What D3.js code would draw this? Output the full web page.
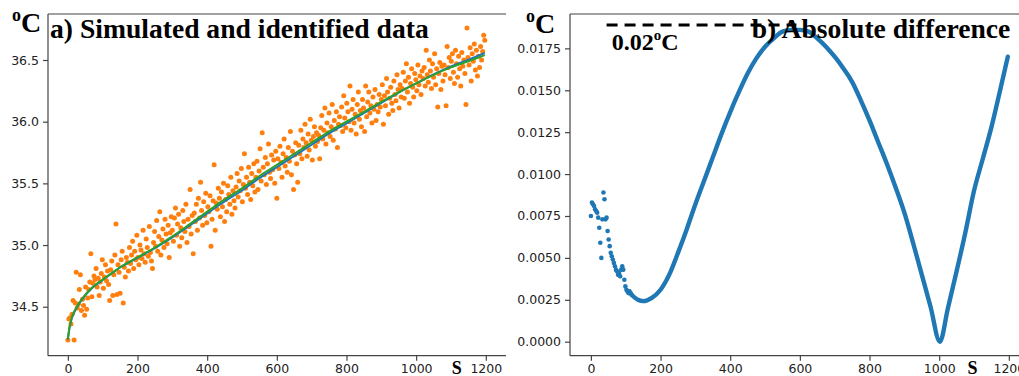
<!DOCTYPE html>
<html>
<head>
<meta charset="utf-8">
<script src="https://cdn.jsdelivr.net/npm/d3@7/dist/d3.min.js"></script>
<style>
  body { margin: 0; background: #fff; overflow: hidden; }
  text { font-family: "DejaVu Sans", sans-serif; }
  .serif { font-family: "Liberation Serif", "Times New Roman", serif; font-weight: bold; fill: #000; }
</style>
</head>
<body>
<svg id="chart" width="1019" height="376"></svg>
<script>
// sampling clock of the measurements (s)
const timeStep = 3;

// a) noisy simulated temperatures, one every 3 s from 0 s
const observed = [
  34.23, 34.40, 34.41, 34.36, 34.44, 34.55, 34.23, 34.53, 34.78, 34.49, 34.52, 34.64, 34.76, 34.47, 34.56, 34.51, 34.43, 34.66, 34.48, 34.57,
  34.64, 34.70, 34.93, 34.58, 34.69, 34.75, 34.72, 34.81, 34.66, 34.73, 34.59, 34.70, 34.77, 34.88, 34.65, 34.74, 34.84, 34.71, 34.79, 34.68,
  34.55, 34.80, 34.87, 34.59, 34.76, 34.92, 35.17, 34.60, 34.84, 34.78, 34.61, 34.88, 34.95, 34.53, 34.82, 34.74, 34.90, 34.86, 34.79, 34.98,
  34.85, 34.92, 35.03, 34.81, 34.95, 34.88, 35.08, 34.90, 34.84, 35.00, 34.96, 34.89, 35.12, 34.93, 34.86, 35.05, 34.98, 34.91, 35.15, 34.94,
  34.87, 34.81, 35.02, 35.11, 34.99, 35.20, 34.95, 35.07, 35.27, 34.92, 35.04, 35.13, 34.98, 35.21, 35.09, 35.01, 35.16, 34.90, 35.10, 35.23,
  35.12, 35.03, 35.22, 35.30, 35.08, 35.17, 35.25, 34.99, 35.14, 35.06, 35.28, 35.19, 35.11, 35.33, 35.02, 35.21, 35.15, 35.45, 35.09, 35.24,
  34.93, 35.26, 35.19, 35.33, 35.12, 35.38, 35.22, 35.51, 35.28, 35.16, 35.35, 35.24, 35.42, 35.18, 35.31, 35.27, 35.40, 34.99, 35.21, 35.36,
  35.65, 35.12, 35.34, 35.29, 35.46, 35.38, 35.23, 35.43, 35.31, 35.50, 35.19, 35.37, 35.27, 35.48, 35.41, 35.33, 35.55, 35.25, 35.44, 35.36,
  35.30, 35.47, 35.58, 35.39, 35.52, 35.44, 35.62, 35.35, 35.49, 35.74, 35.46, 35.55, 35.41, 35.63, 35.51, 35.37, 35.58, 35.48, 35.66, 35.43,
  35.55, 35.68, 35.45, 35.60, 35.78, 35.52, 35.91, 35.63, 35.57, 35.71, 35.49, 35.66, 35.82, 35.59, 35.54, 35.73, 35.61, 35.69, 35.50, 35.76,
  35.38, 35.70, 35.62, 35.80, 35.67, 35.55, 35.74, 35.86, 35.64, 35.71, 35.59, 35.79, 35.68, 35.92, 35.57, 35.76, 35.45, 35.73, 35.83, 35.66,
  35.51, 35.81, 35.74, 35.93, 35.70, 35.86, 35.79, 35.98, 35.83, 35.72, 35.90, 35.77, 36.02, 35.85, 35.69, 35.88, 35.96, 35.80, 35.91, 35.84,
  35.89, 35.70, 35.95, 36.05, 35.86, 35.93, 36.11, 35.82, 35.99, 35.91, 36.07, 35.88, 35.96, 36.14, 35.85, 36.01, 35.94, 36.08, 35.79, 35.98,
  36.04, 35.97, 36.12, 35.92, 36.21, 36.03, 35.95, 36.15, 36.08, 36.00, 36.29, 35.93, 36.10, 36.18, 35.99, 36.06, 35.90, 36.14, 36.24, 36.02,
  36.09, 35.96, 36.18, 36.11, 35.92, 36.29, 36.04, 36.16, 36.24, 36.07, 36.13, 35.99, 36.20, 36.10, 36.26, 36.01, 36.14, 36.08, 36.22, 36.12,
  36.18, 36.30, 35.98, 36.21, 36.13, 36.35, 36.24, 36.06, 36.19, 36.28, 36.15, 36.09, 36.33, 36.22, 36.17, 36.38, 36.26, 36.11, 36.30, 36.20,
  36.27, 36.40, 36.19, 36.33, 36.47, 36.24, 36.36, 36.15, 36.31, 36.43, 36.28, 36.20, 36.39, 36.34, 36.25, 36.46, 36.30, 36.37, 36.22, 36.41,
  36.35, 36.44, 36.29, 36.58, 36.38, 36.32, 36.50, 36.41, 36.27, 36.47, 36.36, 36.55, 36.30, 36.43, 36.12, 36.39, 36.48, 36.26, 36.45, 36.33,
  36.46, 36.38, 36.13, 36.61, 36.44, 36.52, 36.35, 36.49, 36.55, 36.40, 36.31, 36.58, 36.47, 36.36, 36.53, 36.43, 36.29, 36.56, 36.45, 36.50,
  36.39, 36.14, 36.76, 36.52, 36.46, 36.60, 36.33, 36.55, 36.49, 36.63, 36.42, 36.58, 36.37, 36.53, 36.44, 36.61, 36.50, 36.57, 36.70, 36.66
];

// a) model curves (s, degC)
const modelTime = [0, 5, 10, 20, 30, 45, 60, 80, 100, 125, 150, 200, 250, 300, 350, 400, 450, 500, 550, 600, 650, 700, 750, 800, 850, 900, 950, 1000, 1050, 1100, 1150, 1197];
const simulated = [34.233, 34.332, 34.392, 34.463, 34.514, 34.573, 34.625, 34.676, 34.717, 34.768, 34.818, 34.897, 34.975, 35.062, 35.159, 35.256, 35.354, 35.442, 35.542, 35.631, 35.722, 35.813, 35.905, 35.987, 36.069, 36.152, 36.236, 36.310, 36.384, 36.449, 36.503, 36.557];
const identified = [34.24, 34.34, 34.40, 34.47, 34.52, 34.58, 34.63, 34.68, 34.72, 34.77, 34.82, 34.90, 34.98, 35.07, 35.17, 35.27, 35.37, 35.46, 35.56, 35.65, 35.74, 35.83, 35.92, 36.00, 36.08, 36.16, 36.24, 36.31, 36.38, 36.44, 36.49, 36.54];

// b) absolute difference, scattered start (one every 3 s from 0 s)
const diffStart = [
  0.0075, 0.0083, 0.0082, 0.0081, 0.0079, 0.0078, 0.0077, 0.0074, 0.0068, 0.0059,
  0.0050, 0.0073, 0.0089, 0.0085, 0.0073, 0.0074, 0.0066, 0.0061, 0.0057, 0.0053,
  0.0051, 0.0049, 0.0047, 0.0045, 0.0043, 0.0042, 0.0040, 0.0041, 0.0039, 0.0043,
  0.0045, 0.0043, 0.0037, 0.0033, 0.0031, 0.0030, 0.0029, 0.0030, 0.0029, 0.0028
];
// b) absolute difference, smooth part
const diffTime = [117, 135, 150, 175, 200, 225, 250, 275, 300, 325, 350, 375, 400, 425, 450, 475, 500, 525, 550, 575, 600, 625, 650, 675, 700, 725, 750, 775, 800, 825, 850, 875, 900, 925, 950, 975, 1002, 1025, 1050, 1075, 1100, 1125, 1150, 1175, 1197];
const diffValue = [0.0028, 0.0025, 0.00242, 0.00262, 0.0031, 0.0040, 0.0053, 0.0067, 0.0082, 0.0096, 0.0110, 0.0124, 0.0137, 0.0149, 0.0160, 0.0169, 0.0176, 0.0181, 0.0185, 0.0186, 0.0186, 0.0185, 0.0181, 0.0176, 0.0170, 0.0163, 0.0155, 0.0144, 0.0132, 0.0119, 0.0106, 0.0092, 0.0077, 0.0059, 0.0040, 0.0021, 0.0000, 0.0020, 0.0042, 0.0065, 0.0090, 0.0109, 0.0128, 0.0150, 0.0170];

// dashed reference level
const refLevel = 0.0189;
const refSpan = [45, 590];

const timeTicks = [0, 200, 400, 600, 800, 1000, 1200];
const tempTicks = [34.5, 35.0, 35.5, 36.0, 36.5];
const diffTicks = [0, 0.0025, 0.005, 0.0075, 0.01, 0.0125, 0.015, 0.0175];

const orange = '#ff7f0e', green = '#2ca02c', blue = '#1f77b4';
const svg = d3.select('#chart');
const plotTop = 14, plotBottom = 355.7;

function axes(g, x, y, yTicks, fmt, left, right) {
  g.append('g')
    .attr('transform', 'translate(0,' + plotBottom + ')')
    .call(d3.axisBottom(x).tickValues(timeTicks).tickFormat(d3.format('d')).tickSize(5).tickPadding(3.5).tickSizeOuter(0))
    .call(a => a.select('.domain').attr('d', 'M' + left + ',0H' + right));
  g.append('g')
    .attr('transform', 'translate(' + left + ',0)')
    .call(d3.axisLeft(y).tickValues(yTicks).tickFormat(d3.format(fmt)).tickSize(5).tickPadding(4).tickSizeOuter(0))
    .call(a => a.select('.domain').attr('d', 'M0,' + plotTop + 'V' + plotBottom));
  g.append('line')
    .attr('x1', left).attr('x2', right).attr('y1', plotTop).attr('y2', plotTop)
    .attr('stroke', '#444').attr('stroke-width', 1.2);
  g.selectAll('.domain').attr('stroke', '#444').attr('stroke-width', 1.2);
  g.selectAll('.tick line').attr('stroke', '#444').attr('stroke-width', 1.2);
  g.selectAll('.tick text').attr('font-size', 12.5).attr('fill', '#222')
    .style('font-family', '"DejaVu Sans", sans-serif');
}

function unitLabel(g, x, y) {
  const t = g.append('text').attr('class', 'serif').attr('x', x).attr('y', y).attr('font-size', 28);
  t.append('tspan').attr('font-size', 18).attr('dy', -11).text('o');
  t.append('tspan').attr('dy', 11).text('C');
}

// ---- panel a ----
const xa = d3.scaleLinear().domain([-57, 1258]).range([48, 506]);
const ya = d3.scaleLinear().domain([34.103, 36.873]).range([plotBottom, plotTop]);
const ga = svg.append('g');

ga.append('g').selectAll('circle')
  .data(observed)
  .join('circle')
  .attr('cx', (d, i) => xa(i * timeStep))
  .attr('cy', d => ya(d))
  .attr('r', 2.5)
  .attr('fill', orange);

const lineA = (vals) => d3.line()
  .x((d, i) => xa(modelTime[i]))
  .y(d => ya(d))
  .curve(d3.curveMonotoneX)(vals);

ga.append('path').attr('d', lineA(simulated))
  .attr('fill', 'none').attr('stroke', blue).attr('stroke-width', 2);
ga.append('path').attr('d', lineA(identified))
  .attr('fill', 'none').attr('stroke', green).attr('stroke-width', 2);

axes(ga, xa, ya, tempTicks, '.1f', 48, 506);
unitLabel(ga, 12, 32);
ga.append('text').attr('class', 'serif').attr('x', 50).attr('y', 38)
  .attr('font-size', 27.6).text('a) Simulated and identified data');
ga.append('text').attr('class', 'serif').attr('x', 456.7).attr('y', 374)
  .attr('text-anchor', 'middle').attr('font-size', 18).text('S');

// ---- panel b ----
const xb = d3.scaleLinear().domain([-60, 1255]).range([570, 1028]);
const yb = d3.scaleLinear().domain([-0.000835, 0.01955]).range([plotBottom, plotTop]);
const gb = svg.append('g');

gb.append('path')
  .attr('d', d3.line().x((d, i) => xb(diffTime[i])).y(d => yb(d)).curve(d3.curveMonotoneX)(diffValue))
  .attr('fill', 'none').attr('stroke', blue).attr('stroke-width', 4.4)
  .attr('stroke-linecap', 'round').attr('stroke-linejoin', 'round');

gb.append('g').selectAll('circle')
  .data(diffStart)
  .join('circle')
  .attr('cx', (d, i) => xb(i * timeStep))
  .attr('cy', d => yb(d))
  .attr('r', 2.3)
  .attr('fill', blue);

gb.append('line')
  .attr('x1', xb(refSpan[0])).attr('x2', xb(refSpan[1]))
  .attr('y1', yb(refLevel)).attr('y2', yb(refLevel))
  .attr('stroke', '#000').attr('stroke-width', 3).attr('stroke-dasharray', '11,7');

axes(gb, xb, yb, diffTicks, '.4f', 570, 1019);
unitLabel(gb, 526, 33);
gb.append('text').attr('class', 'serif').attr('x', 751.7).attr('y', 38)
  .attr('font-size', 27.6).text('b) Absolute difference');
const lbl = gb.append('text').attr('class', 'serif').attr('x', 611.7).attr('y', 50).attr('font-size', 24);
lbl.append('tspan').text('0.02');
lbl.append('tspan').attr('font-size', 15).attr('dy', -10).text('o');
lbl.append('tspan').attr('dy', 10).text('C');
gb.append('text').attr('class', 'serif').attr('x', 972.5).attr('y', 374)
  .attr('text-anchor', 'middle').attr('font-size', 18).text('S');
</script>
</body>
</html>
